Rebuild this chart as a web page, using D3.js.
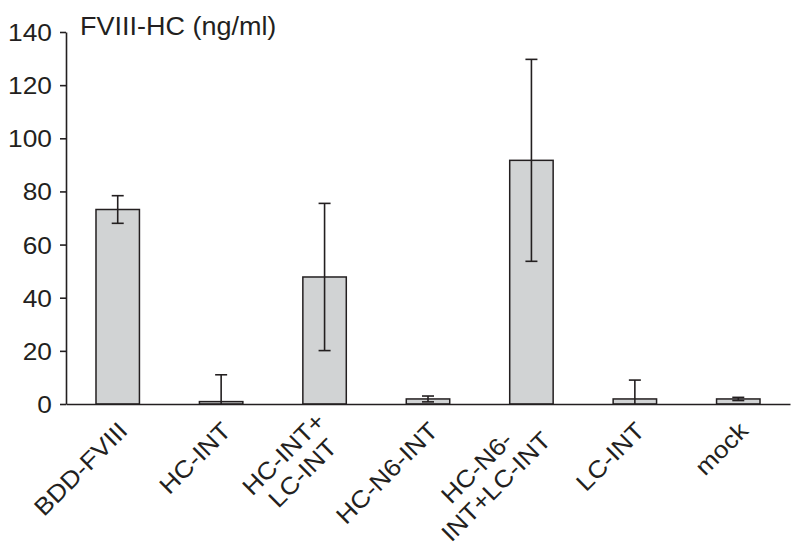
<!DOCTYPE html>
<html><head><meta charset="utf-8">
<script src="https://cdn.jsdelivr.net/npm/d3@7"></script>
<style>
body{margin:0;background:#fff}
text{font-family:"Liberation Sans",Arial,Helvetica,sans-serif;fill:#231f20}
</style>
</head><body><svg id="chart" width="800" height="546"></svg>
<script>
const categories = ["BDD-FVIII","HC-INT","HC-INT+LC-INT","HC-N6-INT","HC-N6-INT+LC-INT","LC-INT","mock"];
const labelLines = [["BDD-FVIII"],["HC-INT"],["HC-INT+","LC-INT"],["HC-N6-INT"],["HC-N6-","INT+LC-INT"],["LC-INT"],["mock"]];
const values = [73.2, 0.9, 47.8, 1.9, 91.7, 1.9, 1.9];
const errors = [5.2, 10.1, 27.7, 1.1, 38.0, 7.1, 0.6];
const yTicks = [0,20,40,60,80,100,120,140];
const yTitle = "FVIII-HC (ng/ml)";

const ink = "#231f20", barFill = "#d1d3d4";
const svg = d3.select("#chart");
const y = d3.scaleLinear().domain([0,140]).range([404,32]);
const x = d3.scaleBand().domain(categories).range([66,790]).paddingInner(0.58).paddingOuter(0.29);

// bars
svg.append("g").selectAll("rect").data(categories).join("rect")
  .attr("x", d => x(d)).attr("width", x.bandwidth())
  .attr("y", (d,i) => y(values[i])).attr("height", (d,i) => y(0) - y(values[i]))
  .attr("fill", barFill).attr("stroke", ink).attr("stroke-width", 1.5);

// error bars
const capW = 12;
const eg = svg.append("g").attr("stroke", ink).attr("stroke-width", 1.6).attr("fill","none");
categories.forEach((c,i) => {
  const cx = x(c) + x.bandwidth()/2;
  const hi = values[i] + errors[i];
  const lo = Math.max(0, values[i] - errors[i]);
  eg.append("line").attr("x1",cx).attr("x2",cx).attr("y1",y(hi)).attr("y2",y(lo));
  eg.append("line").attr("x1",cx-capW/2).attr("x2",cx+capW/2).attr("y1",y(hi)).attr("y2",y(hi));
  if (values[i] - errors[i] > 0)
    eg.append("line").attr("x1",cx-capW/2).attr("x2",cx+capW/2).attr("y1",y(lo)).attr("y2",y(lo));
});

// y axis
const ya = svg.append("g").attr("transform","translate(66,0)")
  .call(d3.axisLeft(y).tickValues(yTicks).tickSize(6).tickSizeOuter(0).tickPadding(8));
ya.select(".domain").attr("stroke", ink).attr("stroke-width", 1.6);
ya.selectAll(".tick line").attr("stroke", ink).attr("stroke-width", 1.6);
ya.selectAll(".tick text").attr("font-size", 23.5).attr("fill", ink)
  .attr("font-family", '"Liberation Sans",Arial,sans-serif')
  .attr("x", -14/1.12).attr("dy","0.36em").attr("transform","scale(1.12,1)");

// x axis line
svg.append("g").attr("transform","translate(0,404)")
  .call(d3.axisBottom(x).tickSize(0).tickFormat(""))
  .call(g => g.select(".domain").attr("stroke", ink).attr("stroke-width", 1.6))
  .call(g => g.selectAll(".tick").remove());

// x labels
const sx = 1.1, fs = 24, L = 27, h = 17, u0 = -12, v0 = 19.5;
categories.forEach((c,i) => {
  const cx = x(c) + x.bandwidth()/2;
  const g = svg.append("g").attr("transform", `translate(${cx},404) rotate(-45) scale(${sx},1)`);
  const lines = labelLines[i];
  const n = lines.length;
  const ts = lines.map((s,k) => g.append("text").attr("font-size", fs).attr("text-anchor","middle")
      .attr("y", v0 + h/2 + (k - (n-1)/2) * L).text(s));
  const W = d3.max(ts, t => t.node().getComputedTextLength());
  ts.forEach(t => t.attr("x", u0/sx - W/2));
});

// title
svg.append("text").attr("transform","translate(80,35) scale(1.08,1)")
  .attr("font-size", 25).text(yTitle);
</script>
</body></html>
